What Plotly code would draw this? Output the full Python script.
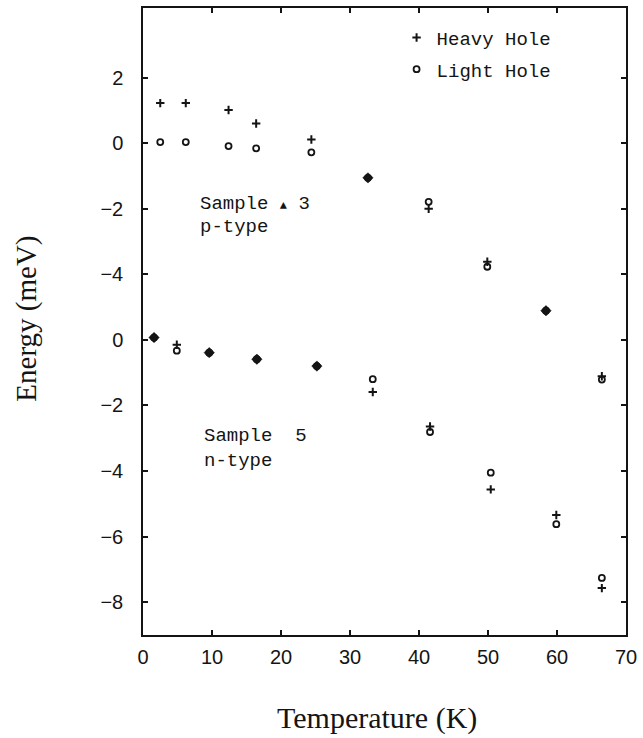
import numpy as np
import plotly.graph_objects as go

# Sample 3 (p-type): temperatures (K) and hole energies (meV)
T_P = [2.5, 6.2, 12.4, 16.4, 24.4, 32.6, 41.4, 49.9, 58.4, 66.5]
HH_P = [1.22, 1.22, 1.01, 0.60, 0.11, -1.06, -2.00, -3.62, -5.11, -7.11]
LH_P = [0.03, 0.03, -0.09, -0.16, -0.28, -1.06, -1.79, -3.77, -5.11, -7.21]

# Sample 5 (n-type)
T_N = [1.6, 4.9, 9.6, 16.5, 25.2, 33.3, 41.6, 50.4, 59.9, 66.5]
HH_N = [0.07, -0.15, -0.39, -0.59, -0.80, -1.59, -2.64, -4.56, -5.34, -7.57]
LH_N = [0.07, -0.33, -0.39, -0.59, -0.80, -1.20, -2.81, -4.05, -5.62, -7.26]

X_TICKS = [0, 10, 20, 30, 40, 50, 60, 70]
TOP_TICKS = [2, 0, -2, -4]
BOTTOM_TICKS = [0, -2, -4, -6, -8]
TOP_RANGE = [-15.0, 4.12]
BOTTOM_RANGE = [-9.0, 10.12]

INK = "#141414"
MONO = "Liberation Mono, DejaVu Sans Mono, monospace"
SANS = "Liberation Sans, Arial, sans-serif"
SERIF = "Liberation Serif, DejaVu Serif, serif"

hh_marker = dict(symbol="cross-thin", size=6, color=INK,
                 line=dict(width=2, color=INK))
lh_marker = dict(symbol="circle-open", size=6, color=INK,
                 line=dict(width=1.8, color=INK))
both_marker = dict(symbol="diamond", size=8, color=INK,
                   line=dict(width=0.5, color=INK))


def coincident(t, a, b):
    t, a, b = map(np.asarray, (t, a, b))
    m = np.abs(a - b) < 0.05
    return t[m], a[m]


def tick_text(vals):
    return [str(v).replace("-", "\u2212") for v in vals]


fig = go.Figure()

for t, hh, lh, axis, legend in [
    (T_P, HH_P, LH_P, "y2", True),
    (T_N, HH_N, LH_N, "y", False),
]:
    fig.add_trace(go.Scatter(x=t, y=hh, mode="markers", marker=hh_marker,
                             name="Heavy Hole", yaxis=axis,
                             showlegend=legend, legendgroup="hh"))
    fig.add_trace(go.Scatter(x=t, y=lh, mode="markers", marker=lh_marker,
                             name="Light Hole", yaxis=axis,
                             showlegend=legend, legendgroup="lh"))
    ct, cy = coincident(t, hh, lh)
    fig.add_trace(go.Scatter(x=ct, y=cy, mode="markers", marker=both_marker,
                             yaxis=axis, showlegend=False, hoverinfo="skip"))

axis_common = dict(
    showline=True, linecolor=INK, linewidth=1.5, mirror="ticks",
    ticks="inside", ticklen=5, tickwidth=1.5, tickcolor=INK,
    showgrid=False, zeroline=False,
    tickfont=dict(family=SANS, size=20, color=INK),
)

fig.update_layout(
    width=643, height=738,
    margin=dict(l=143, r=17, t=6, b=103),
    paper_bgcolor="white", plot_bgcolor="white",
    xaxis=dict(range=[0, 70], tickvals=X_TICKS, ticklabelstandoff=3,
               **axis_common),
    yaxis=dict(range=BOTTOM_RANGE, tickvals=BOTTOM_TICKS,
               ticktext=tick_text(BOTTOM_TICKS),
               ticklabelstandoff=14, **axis_common),
    yaxis2=dict(range=TOP_RANGE, tickvals=TOP_TICKS,
                ticktext=tick_text(TOP_TICKS),
                overlaying="y", side="left", anchor="x",
                ticklabelstandoff=14, **axis_common),
    legend=dict(x=0.525, y=0.983, xanchor="left", yanchor="top",
                bgcolor="rgba(0,0,0,0)", tracegroupgap=4,
                font=dict(family=MONO, size=19, color=INK)),
    showlegend=True,
)

text_font = dict(family=MONO, size=19, color=INK)
annotations = [
    dict(x=8.0, y=-1.85, xref="x", yref="y2", xanchor="left",
         text="Sample <span style='font-size:12px'>▲</span> 3",
         showarrow=False, font=text_font),
    dict(x=8.0, y=-2.57, xref="x", yref="y2", xanchor="left",
         text="p-type", showarrow=False, font=text_font),
    dict(x=8.5, y=-2.94, xref="x", yref="y", xanchor="left",
         text="Sample  5", showarrow=False, font=text_font),
    dict(x=8.5, y=-3.68, xref="x", yref="y", xanchor="left",
         text="n-type", showarrow=False, font=text_font),
    dict(x=0.485, y=-0.162, xref="paper", yref="paper",
         text="Temperature (K)", showarrow=False,
         font=dict(family=SERIF, size=30, color=INK)),
    dict(x=-0.28, y=0.505, xref="paper", yref="paper", textangle=-90,
         text="Energy (meV)", showarrow=False,
         font=dict(family=SERIF, size=29, color=INK)),
]
fig.update_layout(annotations=annotations)

fig.write_html("out.html")
